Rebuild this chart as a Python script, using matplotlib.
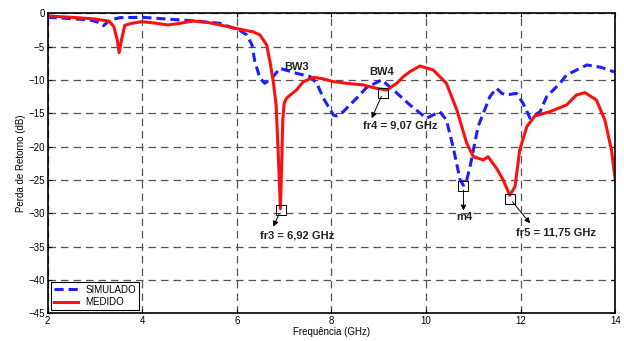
import matplotlib
matplotlib.use('Agg')
import matplotlib.pyplot as plt

plt.rcParams['font.family'] = ['Liberation Sans', 'DejaVu Sans']

# Frequencia (GHz) e perda de retorno (dB) - curva simulada
freq_sim = [2.0, 2.5, 2.89, 3.05, 3.18, 3.32, 3.53, 4.0, 4.4, 4.8, 5.2, 5.64,
            5.92, 6.07, 6.21, 6.32, 6.38, 6.49, 6.59, 6.74, 6.91, 7.26, 7.55, 7.69, 7.83,
            8.04, 8.1, 8.25, 8.53, 8.74, 9.06, 9.31, 9.66, 10.01, 10.29, 10.43,
            10.57, 10.72, 10.79, 10.86, 10.93, 11.0, 11.1, 11.21, 11.35, 11.49,
            11.6, 11.7, 11.91, 12.05, 12.2, 12.41, 12.55, 12.83, 12.97, 13.4,
            13.7, 14.0]
sim = [-0.6, -0.8, -1.0, -1.3, -1.85, -1.0, -0.65, -0.6, -0.8, -1.0, -1.2, -1.5,
       -2.2, -2.6, -3.25, -4.75, -7.25, -9.75, -10.5, -9.75, -8.25, -9.0, -9.5, -10.5, -12.75,
       -15.25, -15.4, -14.75, -12.75, -11.15, -10.0, -11.5, -13.75, -15.75, -14.75, -16.0,
       -20.0, -25.0, -25.8, -25.0, -23.0, -20.5, -17.0, -15.0, -12.5, -11.25,
       -12.0, -12.25, -12.0, -13.5, -15.75, -14.75, -12.5, -10.5, -9.25, -7.75,
       -8.1, -8.85]

# curva medida
freq_med = [2.0, 2.5, 3.0, 3.3, 3.4, 3.47, 3.51, 3.56, 3.63, 3.78, 4.0, 4.3,
            4.54, 4.8, 5.07, 5.4, 5.65, 6.0, 6.14, 6.35, 6.49, 6.63, 6.7, 6.77, 6.83,
            6.88, 6.92, 6.95, 6.97, 7.0, 7.05, 7.12, 7.26, 7.4, 7.62, 7.8, 8.04,
            8.32, 8.67, 8.95, 9.17, 9.38, 9.52, 9.66, 9.87, 10.15, 10.43, 10.65,
            10.86, 11.0, 11.21, 11.31, 11.49, 11.63, 11.77, 11.88, 11.98, 12.13,
            12.3, 12.62, 12.97, 13.18, 13.36, 13.6, 13.78, 13.92, 14.0]
med = [-0.4, -0.6, -0.85, -1.2, -2.0, -4.0, -5.9, -4.0, -1.8, -1.5, -1.25, -1.5,
       -1.75, -1.5, -1.15, -1.4, -1.75, -2.3, -2.5, -2.8, -3.25, -4.75, -7.25, -10.25, -13.75,
       -22.0, -29.3, -22.0, -16.0, -13.5, -12.75, -12.3, -11.5, -10.3, -9.6, -9.8, -10.25,
       -10.5, -10.75, -11.25, -11.5, -10.5, -9.5, -8.75, -7.9, -8.5, -10.5, -14.5,
       -19.5, -21.5, -22.0, -21.5, -23.25, -25.0, -27.3, -26.0, -20.5, -17.0,
       -15.4, -14.75, -13.75, -12.25, -11.9, -13.0, -16.0, -20.5, -25.0]

# marcadores
mark_f = [6.93, 9.09, 10.79, 11.77]
mark_db = [-29.5, -11.9, -25.9, -27.8]
mark_txt = ['fr3 = 6,92 GHz', 'fr4 = 9,07 GHz', 'm4', 'fr5 = 11,75 GHz']
arrow_end = [(6.77, -32.0), (8.85, -15.75), (10.79, -29.6), (12.2, -31.5)]
txt_pos = [(7.27, -33.4), (9.45, -16.9), (10.81, -30.6), (12.74, -32.9)]

fig = plt.figure(figsize=(6.24, 3.41), dpi=100)
ax = fig.add_axes([0.0764, 0.0812, 0.9096, 0.8798])

ax.plot(freq_sim, sim, color='#1f1fff', lw=2.2, linestyle=(0, (3, 1.6)), label='SIMULADO')
ax.plot(freq_med, med, color='#ff1010', lw=2.2, label='MEDIDO')

for f, d, t, a, p in zip(mark_f, mark_db, mark_txt, arrow_end, txt_pos):
    ax.plot(f, d, 's', ms=7, mfc='none', mec='black', mew=0.7)
    ax.annotate('', xy=a, xytext=(f, d),
                arrowprops=dict(arrowstyle='-|>', color='black', lw=0.7,
                                mutation_scale=8, shrinkA=3, shrinkB=0))
    ax.text(p[0], p[1], t, fontsize=8, fontweight='bold', color='#222222',
            ha='center', va='center')

ax.text(7.26, -8.1, 'BW3', fontsize=8, fontweight='bold', color='#222222', ha='center', va='center')
ax.text(9.05, -8.75, 'BW4', fontsize=8, fontweight='bold', color='#222222', ha='center', va='center')

ax.set_xlim(2, 14)
ax.set_ylim(-45, 0)
ax.set_xticks(range(2, 15, 2))
ax.set_yticks(range(-45, 1, 5))
ax.tick_params(labelsize=7, direction='in', top=True, right=True, length=3, pad=2)
ax.grid(True, color='#555555', linestyle=(0, (6, 4)), lw=0.9)
for s in ax.spines.values():
    s.set_linewidth(1.2)

ax.set_xlabel('Frequência (GHz)', fontsize=7, labelpad=1)
ax.set_ylabel('Perda de Retorno (dB)', fontsize=7, labelpad=2)

leg = ax.legend(loc='lower left', fontsize=7, fancybox=False, framealpha=1,
                edgecolor='black', borderaxespad=0.3, handlelength=2.5,
                borderpad=0.3, labelspacing=0.3)
leg.get_frame().set_linewidth(0.8)

fig.savefig('out.png', dpi=100)
